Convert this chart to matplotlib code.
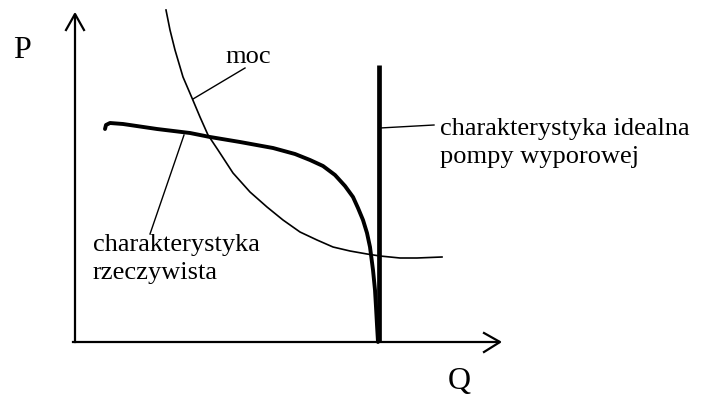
import matplotlib.pyplot as plt

# points (pixel coords, y down)
moc_x = [166, 170, 175, 183, 192, 200, 208, 218, 233, 250, 267, 283, 300, 317, 333, 350, 367, 380, 400, 417, 442]
moc_y = [10, 30, 50, 77, 98, 117, 135, 150, 173, 192, 207, 220, 232, 240, 247, 251, 254, 256, 258, 258, 257]

real_x = [105, 106, 110, 123, 157, 190, 210, 240, 273, 295, 310, 323, 335, 345, 353, 358, 363, 367, 370, 373, 375, 376, 377, 378]
real_y = [129, 125, 123, 124, 129, 133, 137, 142, 148, 154, 160, 166, 175, 186, 197, 208, 220, 233, 247, 270, 290, 307, 325, 342]

ideal_x = [379, 379]
ideal_y = [65, 342]

# label texts and their leader lines
labels = ["moc", "charakterystyka idealna\npompy wyporowej", "charakterystyka\nrzeczywista"]
label_pos = [(225, 57), (440, 143), (93, 259)]
leader_x = [[193, 245], [380, 434], [184, 150]]
leader_y = [[99, 68], [128, 125], [135, 234]]

fig = plt.figure(figsize=(7.06, 4.01), dpi=100)
ax = fig.add_axes([0, 0, 1, 1])
ax.set_xlim(0, 706)
ax.set_ylim(401, 0)
ax.axis('off')

# axes with open arrowheads
ax.plot([75, 75], [342, 15], color='black', lw=1.6)
ax.plot([66, 75, 84], [30, 14, 30], color='black', lw=1.6)
ax.plot([73, 499], [342, 342], color='black', lw=1.6)
ax.plot([484, 500, 484], [333, 342, 352], color='black', lw=1.6)

ax.plot(moc_x, moc_y, color='black', lw=1.2)
ax.plot(real_x, real_y, color='black', lw=2.8, solid_capstyle='round', solid_joinstyle='round')
ax.plot(ideal_x, ideal_y, color='black', lw=3.4, solid_capstyle='butt')

for i in range(len(labels)):
    ax.plot(leader_x[i], leader_y[i], color='black', lw=1.0)
    ax.text(label_pos[i][0], label_pos[i][1], labels[i], fontsize=19,
            family='Liberation Serif', va='center', ha='left', linespacing=1.4)

ax.text(21.5, 58, "P", fontsize=23, family='Liberation Serif', va='baseline', ha='center')
ax.text(459, 389, "Q", fontsize=23, family='Liberation Serif', va='baseline', ha='center')

fig.savefig('out.png', dpi=100)
